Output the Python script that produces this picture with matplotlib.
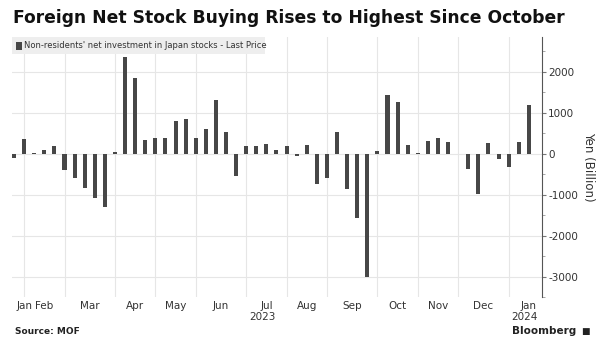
import matplotlib.pyplot as plt
from matplotlib.patches import Rectangle

# Weekly net purchases, late Jan 2023 - mid Jan 2024 (Yen billion)
values = [
    -90, 370, 10, 100, 195, -400, -600, -845, -1090, -1300,
    50, 2360, 1860, 340, 390, 380, 805, 860, 380, 610,
    1325, 530, -540, 195, 190, 235, 100, 195, -50, 220,
    -730, -600, 530, -850, -1570, -3010, 60, 1430, 1260, 210,
    10, 320, 380, 285, -10, -360, -985, 260, -115, -325,
    290, 1200,
]
# index of the first week of each month (vertical gridlines)
month_starts = [1, 5, 10, 14, 18, 23, 27, 31, 36, 40, 44, 49]
month_labels = ["Jan", "Feb", "Mar", "Apr", "May", "Jun", "Jul",
                "Aug", "Sep", "Oct", "Nov", "Dec", "Jan"]
month_label_pos = [1.05, 3, 7.5, 12, 16, 20.5, 25, 29, 33.5, 38, 42, 46.5, 51]
year_labels = ["2023", "2024"]
year_label_pos = [24.6, 50.6]
y_ticks = [2000, 1000, 0, -1000, -2000, -3000]

bar_color = "#474747"
grid_color = "#e6e6e6"

fig = plt.figure(figsize=(6.07, 3.5), dpi=100)
ax = fig.add_axes([0.0198, 0.151, 0.873, 0.743])

x = list(range(len(values)))
ax.bar(x, values, width=0.4, color=bar_color, zorder=3)

ax.set_xlim(-0.2, 52.3)
ax.set_ylim(-3490, 2850)

# gridlines
for m in month_starts:
    ax.axvline(m, color=grid_color, lw=0.8, zorder=1)
for t in y_ticks:
    ax.axhline(t, color=grid_color, lw=0.8, zorder=1)

ax.set_xticks([])
ax.yaxis.tick_right()
ax.yaxis.set_label_position("right")
ax.set_yticks(y_ticks)
ax.set_yticklabels([str(t) for t in y_ticks])
ax.set_yticks(range(-3500, 3000, 500), minor=True)
ax.tick_params(axis="y", which="major", length=3, width=0.8, color="#777777",
               labelsize=7.5, labelcolor="#333333", pad=1.5)
ax.tick_params(axis="y", which="minor", length=2, width=0.6, color="#999999")
ax.set_ylabel("Yen (Billion)", rotation=270, fontsize=8.5, color="#333333",
              labelpad=12)

for s in ["top", "left", "bottom"]:
    ax.spines[s].set_visible(False)
ax.spines["right"].set_color("#555555")
ax.spines["right"].set_linewidth(0.8)

# month and year labels below the plot
for lab, pos in zip(month_labels, month_label_pos):
    ax.text(pos, -3600, lab, ha="center", va="top", fontsize=7.5,
            color="#333333")
for lab, pos in zip(year_labels, year_label_pos):
    ax.text(pos, -3860, lab, ha="center", va="top", fontsize=7.5,
            color="#333333")

# legend box
ax.add_patch(Rectangle((0.0, 0.935), 0.478, 0.065, transform=ax.transAxes,
                       facecolor="#eeeeee", edgecolor="none", zorder=4))
ax.add_patch(Rectangle((0.008, 0.952), 0.011, 0.03, transform=ax.transAxes,
                       facecolor=bar_color, edgecolor="none", zorder=5))
ax.text(0.022, 0.967, "Non-residents' net investment in Japan stocks - Last Price",
        transform=ax.transAxes, fontsize=6.0, color="#333333", va="center",
        zorder=5)

fig.text(0.021, 0.935, "Foreign Net Stock Buying Rises to Highest Since October",
         fontsize=12.3, fontweight="bold", color="#111111", va="baseline")
fig.text(0.024, 0.045, "Source: MOF", fontsize=6.5, fontweight="bold",
         color="#222222", va="baseline")
fig.text(0.949, 0.045, "Bloomberg", fontsize=7.5, fontweight="bold",
         color="#222222", va="baseline", ha="right")
fig.text(0.958, 0.047, "\u25a0", fontsize=6.5, color="#222222", va="baseline",
         ha="left")

fig.savefig("out.png", dpi=100)
